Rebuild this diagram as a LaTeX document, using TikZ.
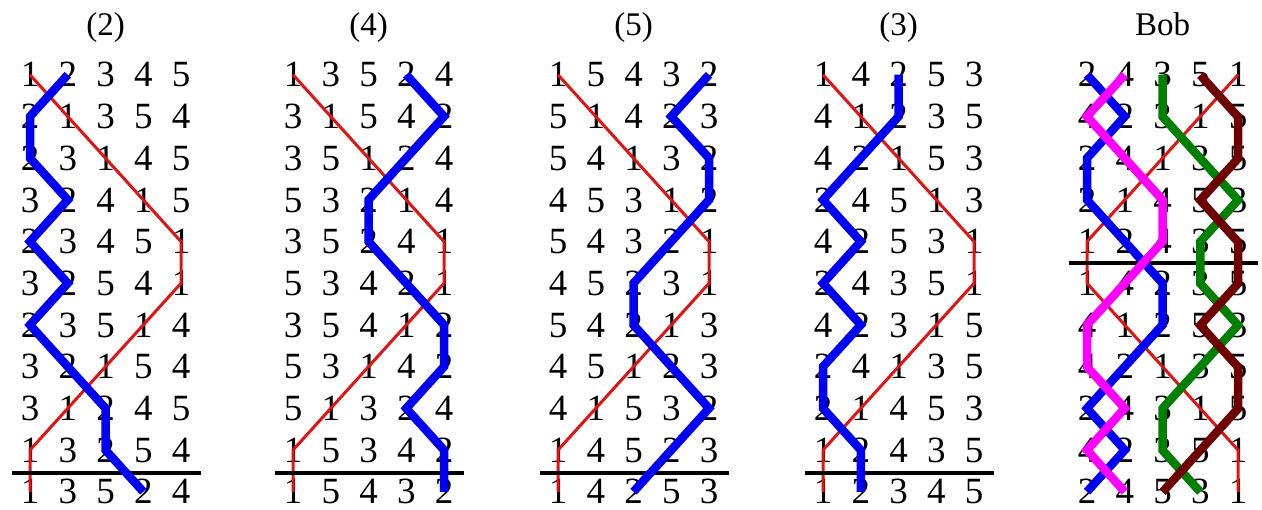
\documentclass[tikz,border=0pt]{standalone}
\usepackage{fontspec}
\setmainfont{Liberation Serif}
\definecolor{tred}{RGB}{225,20,20}
\definecolor{tblue}{RGB}{0,0,245}
\definecolor{tmag}{RGB}{255,0,255}
\definecolor{tgreen}{RGB}{0,128,0}
\definecolor{tbrown}{RGB}{110,0,0}
\tikzset{
  digit/.style={anchor=base, inner sep=0pt, font=\fontsize{37}{37}\selectfont},
  ptitle/.style={anchor=base, inner sep=0pt, font=\fontsize{33}{33}\selectfont},
  redtrack/.style={draw=tred, line width=3pt},
  bluetrack/.style={draw=tblue, line width=8.5pt},
  magtrack/.style={draw=tmag, line width=8.5pt},
  greentrack/.style={draw=tgreen, line width=8.5pt},
  browntrack/.style={draw=tbrown, line width=8.5pt},
  rulebar/.style={draw=black, line width=3.5pt}
}
% #1 name, #2 x of first column, #3 title, #4 rows
\newcommand\mypanel[4]{%
  \node[ptitle] (#1-t) at ({#2+2*37.75}, 36) {#3};
  \foreach \rw [count=\ri] in {#4} {
    \foreach \dg [count=\ci] in \rw {
      \node[digit] (#1-\ri-\ci) at ({#2+(\ci-1)*37.75}, {87+(\ri-1)*41.7}) {\dg};
    }
  }
}
% #1 style, #2 panel, #3 first column, #4 remaining columns
\newcommand\mytrace[4]{%
  \draw[#1] (#2-1-#3.center) \foreach \ci [count=\ri from 2] in {#4} { -- (#2-\ri-\ci.center) };
}
% #1 panel, #2 x of first column, #3 y
\newcommand\myrule[3]{%
  \coordinate (#1-rl) at ({#2-18}, #3);
  \coordinate (#1-rr) at ({#2+4*37.75+20}, #3);
  \draw[rulebar] (#1-rl) -- (#1-rr);
}
\begin{document}
\begin{tikzpicture}[x=1pt,y=-1pt]
\useasboundingbox (0,0) rectangle (1262,510);
% panel (2)
\mypanel{A}{30}{(2)}{{1,2,3,4,5},{2,1,3,5,4},{2,3,1,4,5},{3,2,4,1,5},{2,3,4,5,1},{3,2,5,4,1},{2,3,5,1,4},{3,2,1,5,4},{3,1,2,4,5},{1,3,2,5,4},{1,3,5,2,4}}
\mytrace{redtrack}{A}{1}{2,3,4,5,5,4,3,2,1,1}
\myrule{A}{30}{473}
\mytrace{bluetrack}{A}{2}{1,1,2,1,2,1,2,3,3,4}
% panel (4)
\mypanel{B}{293}{(4)}{{1,3,5,2,4},{3,1,5,4,2},{3,5,1,2,4},{5,3,2,1,4},{3,5,2,4,1},{5,3,4,2,1},{3,5,4,1,2},{5,3,1,4,2},{5,1,3,2,4},{1,5,3,4,2},{1,5,4,3,2}}
\mytrace{redtrack}{B}{1}{2,3,4,5,5,4,3,2,1,1}
\myrule{B}{293}{473}
\mytrace{bluetrack}{B}{4}{5,4,3,3,4,5,5,4,5,5}
% panel (5)
\mypanel{C}{558}{(5)}{{1,5,4,3,2},{5,1,4,2,3},{5,4,1,3,2},{4,5,3,1,2},{5,4,3,2,1},{4,5,2,3,1},{5,4,2,1,3},{4,5,1,2,3},{4,1,5,3,2},{1,4,5,2,3},{1,4,2,5,3}}
\mytrace{redtrack}{C}{1}{2,3,4,5,5,4,3,2,1,1}
\myrule{C}{558}{473}
\mytrace{bluetrack}{C}{5}{4,5,5,4,3,3,4,5,4,3}
% panel (3)
\mypanel{D}{823}{(3)}{{1,4,2,5,3},{4,1,2,3,5},{4,2,1,5,3},{2,4,5,1,3},{4,2,5,3,1},{2,4,3,5,1},{4,2,3,1,5},{2,4,1,3,5},{2,1,4,5,3},{1,2,4,3,5},{1,2,3,4,5}}
\mytrace{redtrack}{D}{1}{2,3,4,5,5,4,3,2,1,1}
\myrule{D}{823}{473}
\mytrace{bluetrack}{D}{3}{3,2,1,2,1,2,1,1,2,2}
% panel Bob
\mypanel{E}{1087}{Bob}{{2,4,3,5,1},{4,2,3,1,5},{2,4,1,3,5},{2,1,4,5,3},{1,2,4,3,5},{1,4,2,3,5},{4,1,2,5,3},{4,2,1,3,5},{2,4,3,1,5},{4,2,3,5,1},{2,4,5,3,1}}
\mytrace{redtrack}{E}{5}{4,3,2,1,1,2,3,4,5,5}
\myrule{E}{1087}{263}
\mytrace{bluetrack}{E}{1}{2,1,1,2,3,3,2,1,2,1}
\mytrace{magtrack}{E}{2}{1,2,3,3,2,1,1,2,1,2}
\mytrace{greentrack}{E}{3}{3,4,5,4,4,5,4,3,3,4}
\mytrace{browntrack}{E}{4}{5,5,4,5,5,4,5,5,4,3}
\end{tikzpicture}
\end{document}
